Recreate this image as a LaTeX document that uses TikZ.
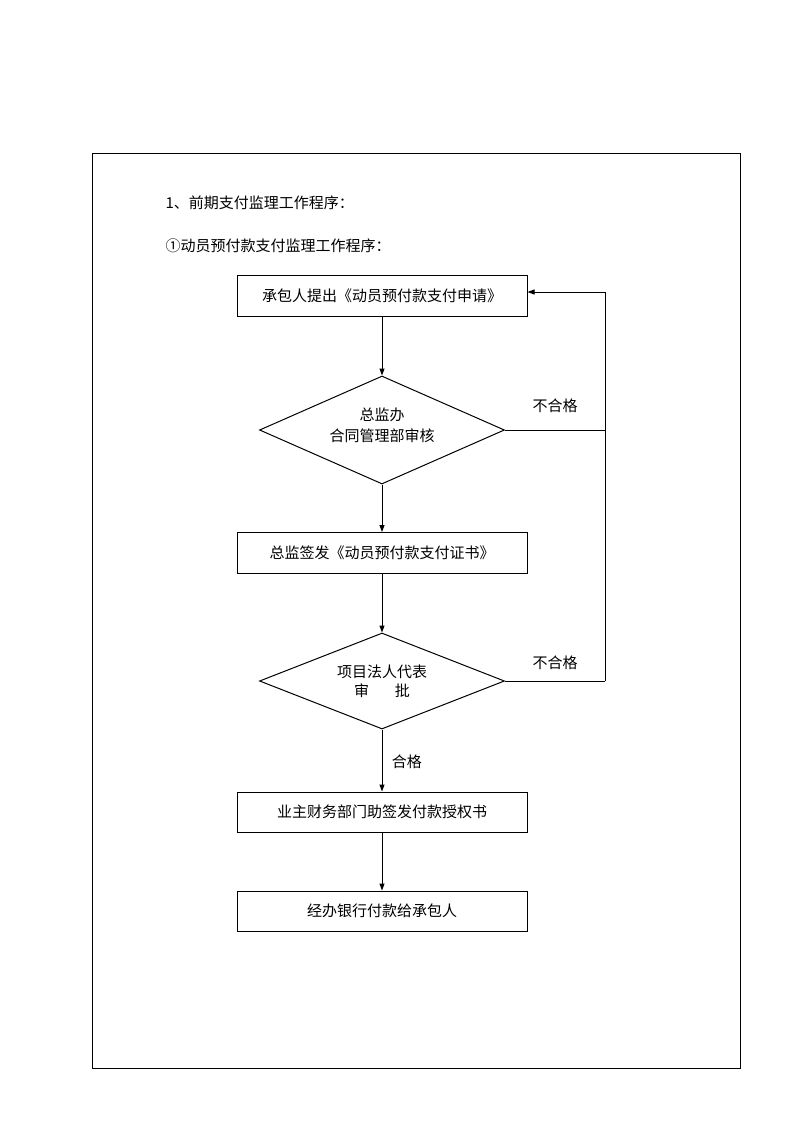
\documentclass[tikz,border=0pt]{standalone}
\usepackage{fontspec}
\newfontfamily\cjk{Noto Sans CJK SC}
\usetikzlibrary{shapes.geometric,arrows.meta}
\begin{document}
\begin{tikzpicture}[x=1pt,y=-1pt,
  every node/.style={font=\cjk\fontsize{15}{19}\selectfont},
  procbox/.style={draw,line width=1pt,minimum width=290pt,minimum height=41pt,inner sep=0pt},
  decision/.style={draw,diamond,line width=1pt,minimum width=245pt,minimum height=108pt,aspect=2.27,inner sep=0pt,align=center},
  flow/.style={line width=1pt,-{Triangle[length=7pt,width=5pt]}},
  plain/.style={line width=1pt}]
\useasboundingbox (0,0) rectangle (800,1132);
\draw[line width=1pt] (92,153) rectangle (740,1068);
\node[anchor=west] (t1) at (162,203) {1、前期支付监理工作程序：};
\node[anchor=west] (t2) at (162,246) {①动员预付款支付监理工作程序：};
\node[procbox] (b1) at (382,295.5) {承包人提出《动员预付款支付申请》};
\node[decision] (d1) at (382,430) {总监办\\[2pt]合同管理部审核\\[-8pt]\mbox{}};
\node[procbox] (b2) at (382,553) {总监签发《动员预付款支付证书》};
\node[decision,minimum height=96pt,aspect=2.55] (d2) at (382,681) {项目法人代表\\[0pt]审\hspace{26pt}批};
\node[procbox,minimum height=40pt] (b3) at (382,812) {业主财务部门助签发付款授权书};
\node[procbox,minimum height=40pt] (b4) at (382,911) {经办银行付款给承包人};
\coordinate (r1) at (605,430);
\coordinate (r2) at (605,681);
\coordinate (rt) at (605,292);
\draw[flow] (b1) -- (d1);
\draw[flow] (d1) -- (b2);
\draw[flow] (b2) -- (d2);
\draw[flow] (d2) -- (b3) node[pos=0.52,right=6pt] (ok) {合格};
\draw[flow] (b3) -- (b4);
\draw[plain] (d1.east) -- (r1);
\draw[plain] (d2.east) -- (r2);
\draw[flow] (r2) -- (rt) -- (b1.east |- rt);
\node (n1) at (555,406) {不合格};
\node (n2) at (555,663) {不合格};
\end{tikzpicture}
\end{document}
